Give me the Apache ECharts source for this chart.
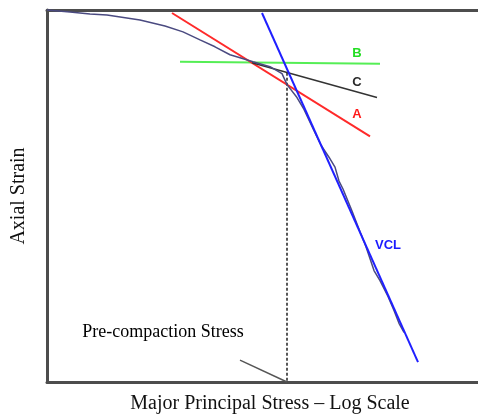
<!DOCTYPE html>
<html>
<head>
<meta charset="utf-8">
<script src="https://cdn.jsdelivr.net/npm/echarts@6/dist/echarts.min.js"></script>
<style>
  html, body { margin: 0; padding: 0; background: #fff; }
  #chart { width: 478px; height: 419px; }
</style>
</head>
<body>
<div id="chart"></div>
<script>
// arbitrary units: x = log stress, y = strain (grows downward)
const curve = [
  [0, 0], [23, 2], [43, 4], [60, 5], [93, 10], [118, 16], [136, 22], [153, 30],
  [168, 37], [183, 45], [193, 48], [206, 52], [223, 57], [235, 64], [240, 75],
  [250, 88], [257, 100], [265, 117], [274, 136], [282, 148], [288, 158],
  [292, 172], [296, 180], [305, 202], [313, 223], [319, 238], [327, 262],
  [333, 272], [341, 288], [347, 302], [352, 315], [357, 324]
];
const lineVCL = [[215, 3], [371, 354]];
const lineA = [[125, 3], [323, 127]];
const lineB = [[133, 52], [333, 54]];
const lineC = [[205, 53], [330, 88]];
const preStress = [[240, 63], [240, 374]];
const pointer = [[193, 352], [240, 374]];

const labels = [
  { name: 'B', value: [310, 44], color: '#22dd22' },
  { name: 'C', value: [310, 73], color: '#2a2a2a' },
  { name: 'A', value: [310, 105], color: '#ff1a1a' },
  { name: 'VCL', value: [341, 237], color: '#1a1aff' }
];
const noteText = [{ name: 'Pre-compaction Stress', value: [116, 324] }];

const chart = echarts.init(document.getElementById('chart'));

function seg(data, color, width, type) {
  return {
    type: 'line', data: data, symbol: 'none', silent: true, clip: false,
    lineStyle: { color: color, width: width, type: type || 'solid' }
  };
}

const frame = { show: true, onZero: false, lineStyle: { color: '#4d4d4d', width: 3 } };

chart.setOption({
  animation: false,
  grid: { left: 47, right: 0, top: 10, bottom: 35 },
  xAxis: [
    {
      type: 'value', min: 0, max: 431, position: 'bottom',
      axisLine: frame, axisTick: { show: false }, axisLabel: { show: false },
      splitLine: { show: false },
      name: 'Major Principal Stress \u2013 Log Scale', nameLocation: 'middle', nameGap: 12,
      nameTextStyle: { fontFamily: 'Liberation Serif', fontSize: 20, color: '#111', padding: [0, 0, 0, 15] }
    },
    {
      type: 'value', min: 0, max: 431, position: 'top',
      axisLine: frame, axisTick: { show: false }, axisLabel: { show: false },
      splitLine: { show: false }
    }
  ],
  yAxis: {
    type: 'value', min: 0, max: 374, inverse: true,
    axisLine: frame, axisTick: { show: false }, axisLabel: { show: false },
    splitLine: { show: false },
    name: 'Axial Strain', nameLocation: 'middle', nameGap: 18,
    nameTextStyle: { fontFamily: 'Liberation Serif', fontSize: 20, color: '#111' }
  },
  series: [
    seg(lineB, '#55ee55', 2),
    seg(lineA, '#ff2a2a', 2),
    seg(lineC, '#333333', 1.5),
    seg(preStress, '#222222', 1.5, [3, 2]),
    seg(pointer, '#555555', 1.5),
    seg(curve, '#4a4a80', 1.5),
    seg(lineVCL, '#2020ff', 2),
    {
      type: 'scatter', symbolSize: 0, silent: true,
      itemStyle: { opacity: 1 },
      data: labels.map(d => ({
        name: d.name, value: d.value,
        label: { show: true, position: 'inside', formatter: '{b}', color: d.color,
          fontFamily: 'Liberation Sans', fontWeight: 'bold', fontSize: 13 }
      }))
    },
    {
      type: 'scatter', symbolSize: 0, silent: true,
      itemStyle: { opacity: 1 },
      data: noteText,
      label: { show: true, position: 'inside', formatter: '{b}', color: '#000',
        fontFamily: 'Liberation Serif', fontSize: 18 }
    }
  ]
});
</script>
</body>
</html>
